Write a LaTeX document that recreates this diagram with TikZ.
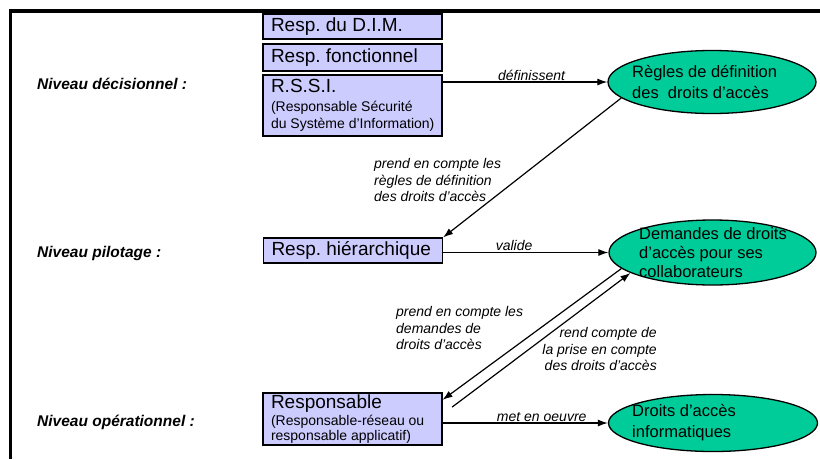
\documentclass[tikz,border=0pt]{standalone}
\usepackage{fontspec}
\setmainfont{Liberation Sans}
\usetikzlibrary{shapes.geometric,arrows.meta}
\definecolor{boxfill}{RGB}{204,204,255}
\definecolor{ovalfill}{RGB}{0,204,153}

\begin{document}
\frenchspacing
\begin{tikzpicture}[x=1pt,y=-1pt,
	box/.style={draw=black, line width=1.1pt, fill=boxfill, minimum width=179pt,
		inner xsep=8pt, inner ysep=0pt, text width=163pt, align=flush left,
		font=\fontsize{19}{21}\selectfont},
	oval/.style={ellipse, draw=black, line width=1.3pt, fill=ovalfill, inner sep=0pt},
	ovaltxt/.style={anchor=west, inner sep=0pt, align=left},
	lvl/.style={anchor=west, inner sep=0pt, font=\fontsize{15.5}{18}\selectfont\bfseries\itshape},
	lbl/.style={inner sep=1pt, font=\fontsize{14}{16.5}\selectfont\itshape},
	arr/.style={draw=black, line width=1.2pt, -{Latex[length=10pt,width=7pt]}}]
	\useasboundingbox (0,0) rectangle (820,459);
	\draw[line width=3.5pt] (10.5,459) -- (10.5,11) -- (820,11);

	% niveaux
	\node[lvl] (niv-dec) at (37,84) {Niveau décisionnel :};
	\node[lvl] (niv-pil) at (37,253) {Niveau pilotage :};
	\node[lvl] (niv-ope) at (37,422) {Niveau opérationnel :};

	% acteurs
	\node[box, minimum height=25pt] (dim) at (352.5,26.5) {Resp. du D.I.M.};
	\node[box, minimum height=27pt] (fonct) at (352.5,57.5) {Resp. fonctionnel};
	\node[box, minimum height=61pt] (rssi) at (352.5,105.5) {R.S.S.I.\par\vspace{1.5pt}
		\fontsize{14}{17}\selectfont \mbox{(Responsable Sécurité}\par
		\mbox{du Système d'Information)}\par};
	\node[box, minimum height=25pt] (hier) at (353,250.5) {Resp. hiérarchique};
	\node[box, minimum height=52pt] (resp) at (352.5,419) {Responsable\par\vspace{1.5pt}
		\fontsize{14}{15.5}\selectfont \mbox{(Responsable-réseau ou}\par
		\mbox{responsable applicatif)}\par\vspace{-4pt}};

	% ellipses
	\node[oval, minimum width=208pt, minimum height=63pt] (regles) at (712,82) {};
	\node[ovaltxt, font=\fontsize{16.5}{21}\selectfont] (regles-t) at ([xshift=-80pt]regles.center)
		{Règles de définition\\des\ \ droits d'accès};
	\node[oval, minimum width=207pt, minimum height=65pt] (demandes) at (712.5,252.5) {};
	\node[ovaltxt, font=\fontsize{16.5}{19}\selectfont] (demandes-t) at ([xshift=-73.5pt]demandes.center)
		{Demandes de droits\\d'accès pour ses\\collaborateurs};
	\node[oval, minimum width=209pt, minimum height=57pt] (droits) at (713,423) {};
	\node[ovaltxt, font=\fontsize{16.5}{21}\selectfont] (droits-t) at ([xshift=-81pt]droits.center)
		{Droits d'accès\\informatiques};

	% fleches
	\draw[arr] (rssi.east |- regles.west) -- node[lbl, above, pos=0.54] {définissent} (regles.west);
	\draw[arr] (regles.190) -- (hier.north east);
	\draw[arr] (hier.east |- demandes.west) -- node[lbl, above, pos=0.43] {valide} (demandes.west);
	\draw[arr] (demandes.190) -- (resp.12);
	\draw[arr, shorten <=12pt] (resp.3) -- (demandes.194);
	\draw[arr] (resp.east |- droits.west) -- node[lbl, above, pos=0.6, inner sep=0.5pt] {met en oeuvre} (droits.west);

	\node[lbl, anchor=west, align=left] (prend-regles) at (373,180)
		{prend en compte les\\règles de définition\\des droits d'accès};
	\node[lbl, anchor=west, align=left] (prend-demandes) at (395,328)
		{prend en compte les\\demandes de\\droits d'accès};
	\node[lbl, anchor=east, align=right] (rend-compte) at (658,349)
		{rend compte de\\la prise en compte\\des droits d'accès};
\end{tikzpicture}
\end{document}
